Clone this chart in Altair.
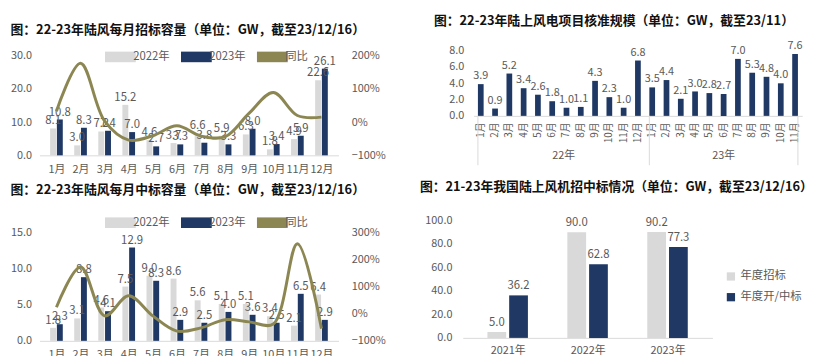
import altair as alt
import pandas as pd

FONT = "Noto Sans CJK SC"
GREY = "#D9D9D9"
NAVY = "#1F3864"
OLIVE = "#8C8752"
LBL = "#595959"

months = [f"{i}月" for i in range(1, 13)]
month_idx = list(range(1, 13))

# Panel 1: monthly tender volume (GW) and YoY (%)
bid_2022 = [8.1, 3.0, 7.2, 15.2, 4.6, 3.7, 6.6, 5.9, 6.3, 1.8, 4.9, 22.6]
bid_2023 = [10.8, 8.3, 7.4, 7.0, 2.7, 3.3, 3.8, 3.3, 8.0, 3.4, 5.9, 26.1]
bid_yoy = [33, 177, 3, -54, -41, -11, -42, -44, 27, 89, 20, 15]

# Panel 2: approvals (GW)
appr_22 = [3.9, 0.9, 5.2, 3.4, 2.6, 1.8, 1.0, 1.1, 4.3, 2.3, 1.0, 6.8]
appr_23 = [3.5, 4.4, 2.1, 3.0, 2.8, 2.7, 7.0, 5.3, 4.8, 4.0, 7.6]

# Panel 3: monthly winning-bid volume (GW) and YoY (%)
win_2022 = [1.8, 3.1, 4.6, 7.5, 9.0, 8.6, 5.6, 5.1, 5.1, 3.4, 2.1, 6.4]
win_2023 = [2.3, 8.8, 4.1, 12.9, 8.3, 2.9, 2.5, 4.0, 3.6, 2.5, 6.5, 2.9]
win_yoy = [24, 172, -8, 66, -8, -64, -52, -22, -30, -38, 258, -55]

# Panel 4: annual (GW)
years = ["2021年", "2022年", "2023年"]
annual_bid = [5.0, 90.0, 90.2]
annual_win = [36.2, 62.8, 77.3]

series3 = ["2022年", "2023年", "同比"]
cscale = alt.Scale(domain=series3, range=[GREY, NAVY, OLIVE])
RECT = "M-1.6,-0.55H1.6V0.55H-1.6Z"
AX = dict(labelFont=FONT, labelFontSize=11, labelColor=LBL)
VAL_FS = 11.5


def title(text, offset, dx=0):
    return alt.TitleParams(text, anchor="start", font=FONT, fontSize=13,
                           fontWeight="bold", color="#111111", offset=offset, dx=dx)


def month_panel(v22, v23, yoy, ymax, ystep, rmin, rmax, rstep, w, h, hplot,
                ttl, toff, legy):
    k = h / hplot  # empty strip on top so that plot tops line up with the neighbour
    shift = 0.14   # half distance between the paired bars, in month units
    df = pd.DataFrame({"pos": [m - shift for m in month_idx] + [m + shift for m in month_idx],
                       "series": ["2022年"] * 12 + ["2023年"] * 12,
                       "value": v22 + v23})
    dl = pd.DataFrame({"pos": month_idx, "series": ["同比"] * 12,
                       "yoy": [v / 100 for v in yoy]})
    xscale = alt.Scale(domain=[0.5, 12.5], nice=False, zero=False)
    xaxis = alt.Axis(values=month_idx, labelExpr="datum.value + '月'", grid=False,
                     ticks=False, domainColor=GREY, labelPadding=8,
                     labelOverlap=False, labelFlush=False, **AX)
    xs = alt.X("pos:Q", title=None, scale=xscale, axis=xaxis)
    ys = alt.Y("value:Q", title=None,
               scale=alt.Scale(domain=[0, ymax * k], nice=False, zero=True),
               axis=alt.Axis(values=list(range(0, ymax + 1, ystep)), format=".1f",
                             grid=False, domain=False, ticks=False,
                             labelPadding=8, **AX))
    bars = alt.Chart(df).mark_bar(width=6).encode(
        x=xs, y=ys,
        color=alt.Color("series:N", scale=cscale, title=None,
                        legend=alt.Legend(orient="none", direction="horizontal",
                                          legendX=72, legendY=legy,
                                          symbolType=RECT, symbolSize=380,
                                          labelFont=FONT, labelFontSize=11.5,
                                          labelColor=LBL, columnPadding=10,
                                          labelOffset=3,
                                          symbolStrokeWidth=0)))
    txt = alt.Chart(df).mark_text(dy=-7, font=FONT, fontSize=VAL_FS, color=LBL).encode(
        x=xs, y=ys, text=alt.Text("value:Q", format=".1f"))
    rspan = (rmax - rmin) / 100
    line = alt.Chart(dl).mark_line(strokeWidth=3, interpolate="catmull-rom").encode(
        x=xs,
        y=alt.Y("yoy:Q", title=None,
                scale=alt.Scale(domain=[rmin / 100, rmin / 100 + rspan * k], nice=False,
                                zero=False),
                axis=alt.Axis(orient="right",
                              values=[v / 100 for v in range(rmin, rmax + 1, rstep)],
                              format=".0%", grid=False, domain=False, ticks=False,
                              labelPadding=13, **AX)),
        color=alt.Color("series:N", scale=cscale, title=None))
    return (alt.layer(alt.layer(bars, txt), line)
            .resolve_scale(y="independent")
            .properties(width=w, height=h, title=title(ttl, toff)))


p1 = month_panel(bid_2022, bid_2023, bid_yoy, 30, 10, -100, 200, 100, 303, 106, 101,
                 "图：22-23年陆风每月招标容量（单位：GW，截至23/12/16）", 10, -4)
p3 = month_panel(win_2022, win_2023, win_yoy, 15, 5, -100, 300, 100, 303, 122, 110,
                 "图：22-23年陆风每月中标容量（单位：GW，截至23/12/16）", 16, -8)

# Panel 2
keys = [f"22-{i}" for i in range(1, 13)] + [f"23-{i}" for i in range(1, 12)]
df2 = pd.DataFrame({"key": keys, "value": appr_22 + appr_23})
x2 = alt.X("key:N", sort=keys, title=None,
           scale=alt.Scale(type="band", paddingInner=0.6, paddingOuter=0.3),
           axis=alt.Axis(labelAngle=-90, labelFont=FONT, labelFontSize=10,
                         labelColor=LBL, ticks=False, domainColor=GREY,
                         labelPadding=6,
                         labelExpr="split(datum.value, '-')[1] + '月'"))
y2 = alt.Y("value:Q", title=None, scale=alt.Scale(domain=[0, 8]),
           axis=alt.Axis(values=[0, 2, 4, 6, 8], format=".1f", grid=False,
                         domain=False, ticks=False, labelPadding=10, **AX))
b2 = alt.Chart(df2).mark_bar(color=NAVY).encode(x=x2, y=y2)
t2 = alt.Chart(df2).mark_text(dy=-8, font=FONT, fontSize=11, color=LBL).encode(
    x=x2, y=y2, text=alt.Text("value:Q", format=".1f"))
grp = pd.DataFrame({"key": ["22-7", "23-6"], "label": ["22年", "23年"]})
g22 = alt.Chart(grp.iloc[[0]]).mark_text(font=FONT, fontSize=11, color=LBL).encode(
    x=alt.X("key:N", sort=keys, bandPosition=0), y=alt.value(66 + 41), text="label:N")
g23 = alt.Chart(grp.iloc[[1]]).mark_text(font=FONT, fontSize=11, color=LBL).encode(
    x=alt.X("key:N", sort=keys, bandPosition=0.5), y=alt.value(66 + 41), text="label:N")
sep0 = pd.DataFrame({"key": ["22-1", "23-1"]})
sep1 = pd.DataFrame({"key": ["23-11"]})
r0 = alt.Chart(sep0).mark_rule(color=GREY, strokeWidth=1).encode(
    x=alt.X("key:N", sort=keys, bandPosition=0), y=alt.value(66), y2=alt.value(66 + 50))
r1 = alt.Chart(sep1).mark_rule(color=GREY, strokeWidth=1).encode(
    x=alt.X("key:N", sort=keys, bandPosition=1), y=alt.value(66), y2=alt.value(66 + 50))
p2 = alt.layer(b2, t2, g22, g23, r0, r1).properties(
    width=333, height=66,
    title=title("图：22-23年陆上风电项目核准规模（单位：GW，截至23/11）", 12, -15))

# Panel 4
yidx = [1, 2, 3]
shift4 = 0.136
df4 = pd.DataFrame({"pos": [i - shift4 for i in yidx] + [i + shift4 for i in yidx],
                    "series": ["年度招标"] * 3 + ["年度开/中标"] * 3,
                    "value": annual_bid + annual_win})
c4 = alt.Scale(domain=["年度招标", "年度开/中标"], range=[GREY, NAVY])
xs4 = alt.Scale(domain=[0.5, 3.5], nice=False, zero=False)
x4axis = alt.Axis(values=yidx, labelExpr="(2020 + datum.value) + '年'", grid=False,
                  ticks=False, domainColor=GREY, labelPadding=7,
                  labelOverlap=False, **AX)
x4 = alt.X("pos:Q", title=None, scale=xs4, axis=x4axis)
y4 = alt.Y("value:Q", title=None, scale=alt.Scale(domain=[0, 100]),
           axis=alt.Axis(values=[0, 20, 40, 60, 80, 100], format=".1f", grid=False,
                         domain=False, ticks=False, labelPadding=11, **AX))
b4 = alt.Chart(df4).mark_bar(width=19).encode(
    x=x4, y=y4,
    color=alt.Color("series:N", scale=c4, title=None,
                    legend=alt.Legend(orient="none", legendX=266, legendY=51,
                                      symbolType="square", symbolSize=70,
                                      labelFont=FONT, labelFontSize=11.5,
                                      labelColor=LBL, rowPadding=8)))
t4 = alt.Chart(df4).mark_text(dy=-9, font=FONT, fontSize=VAL_FS, color=LBL).encode(
    x=x4, y=y4, text=alt.Text("value:Q", format=".1f"))
p4 = alt.layer(b4, t4).properties(
    width=253, height=119,
    title=title("图：21-23年我国陆上风机招中标情况（单位：GW，截至23/12/16）", 21, -5))

row1 = alt.hconcat(p1, p2, spacing=48).resolve_scale(color="independent")
row2 = alt.hconcat(p3, p4, spacing=34).resolve_scale(color="independent")
chart = (alt.vconcat(row1, row2, spacing=7)
         .resolve_scale(color="independent")
         .properties(padding={"left": 10, "top": 13, "right": 4, "bottom": 0},
                     background="white")
         .configure_view(stroke=None)
         .configure_axis(labelOverlap=False))

chart.save("out.html", embed_options={"renderer": "svg", "actions": False})
